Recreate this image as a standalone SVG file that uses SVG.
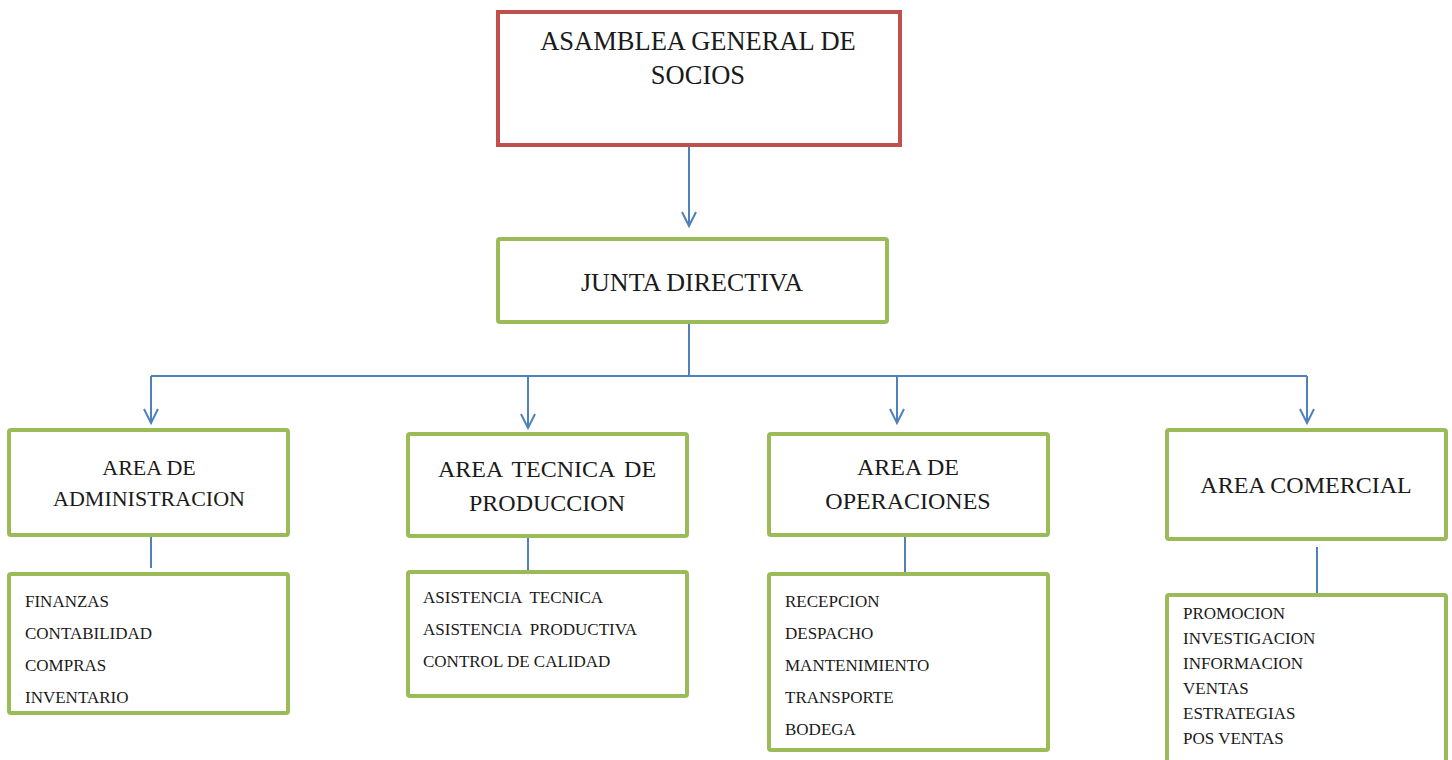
<svg xmlns="http://www.w3.org/2000/svg" width="1452" height="760" viewBox="0 0 1452 760">
<style>
.box{fill:#fff;stroke:#9bbb59;stroke-width:4}
.top{fill:#fff;stroke:#c0504d;stroke-width:4}
.con{fill:none;stroke:#4f81bd;stroke-width:2}
text{font-family:"Liberation Serif","Times New Roman",serif;fill:#1a1a1a}
.h{font-size:24px;text-anchor:middle}
.i{font-size:17px}
</style>
<defs>
<marker id="arr" markerUnits="userSpaceOnUse" markerWidth="16" markerHeight="16" refX="15" refY="8" orient="auto" viewBox="0 0 16 16" overflow="visible">
<path d="M1,1 L15,8 L1,15" fill="none" stroke="#4f81bd" stroke-width="2"/>
</marker>
</defs>
<rect width="1452" height="760" fill="#fff"/>
<g id="connectors">
<path class="con" d="M689,147 V226" marker-end="url(#arr)"/>
<path class="con" d="M689,324 V376"/>
<path class="con" d="M151,376 H1307"/>
<path class="con" d="M151,376 V423" marker-end="url(#arr)"/>
<path class="con" d="M528,376 V428" marker-end="url(#arr)"/>
<path class="con" d="M897,376 V423" marker-end="url(#arr)"/>
<path class="con" d="M1307,376 V423" marker-end="url(#arr)"/>
<path class="con" d="M151,537 V568"/>
<path class="con" d="M528,538 V570"/>
<path class="con" d="M905,537 V572"/>
<path class="con" d="M1317,547 V595"/>
</g>
<g id="asamblea">
<rect class="top" x="498" y="12" width="402" height="133"/>
<text x="698" y="50" font-size="26.5" text-anchor="middle">ASAMBLEA GENERAL DE</text>
<text x="698" y="84" font-size="26.5" text-anchor="middle">SOCIOS</text>
</g>
<g id="junta">
<rect class="box" x="498" y="239" width="389" height="83" rx="2"/>
<text x="692" y="291" font-size="26" text-anchor="middle">JUNTA DIRECTIVA</text>
</g>
<g id="admin">
<rect class="box" x="9" y="430" width="279" height="105" rx="2"/>
<text class="h" x="149" y="475" style="font-size:22px">AREA DE</text>
<text class="h" x="149" y="506" style="font-size:22px">ADMINISTRACION</text>
</g>
<g id="admin-items">
<rect class="box" x="9" y="574" width="279" height="139" rx="2"/>
<text class="i" x="25" y="607">FINANZAS</text>
<text class="i" x="25" y="639">CONTABILIDAD</text>
<text class="i" x="25" y="671">COMPRAS</text>
<text class="i" x="25" y="703">INVENTARIO</text>
</g>
<g id="tecnica">
<rect class="box" x="408" y="434" width="279" height="102" rx="2"/>
<text class="h" x="547" y="477" word-spacing="4">AREA TECNICA DE</text>
<text class="h" x="547" y="511">PRODUCCION</text>
</g>
<g id="tecnica-items">
<rect class="box" x="408" y="572" width="279" height="124" rx="2"/>
<text class="i" x="423" y="603" xml:space="preserve">ASISTENCIA  TECNICA</text>
<text class="i" x="423" y="635" xml:space="preserve">ASISTENCIA  PRODUCTIVA</text>
<text class="i" x="423" y="667">CONTROL DE CALIDAD</text>
</g>
<g id="operaciones">
<rect class="box" x="769" y="434" width="279" height="101" rx="2"/>
<text class="h" x="908" y="475">AREA DE</text>
<text class="h" x="908" y="509">OPERACIONES</text>
</g>
<g id="operaciones-items">
<rect class="box" x="769" y="574" width="279" height="176" rx="2"/>
<text class="i" x="785" y="607">RECEPCION</text>
<text class="i" x="785" y="639">DESPACHO</text>
<text class="i" x="785" y="671">MANTENIMIENTO</text>
<text class="i" x="785" y="703">TRANSPORTE</text>
<text class="i" x="785" y="735">BODEGA</text>
</g>
<g id="comercial">
<rect class="box" x="1167" y="430" width="279" height="109" rx="2"/>
<text class="h" x="1306" y="493">AREA COMERCIAL</text>
</g>
<g id="comercial-items">
<rect class="box" x="1167" y="595" width="279" height="190" rx="2"/>
<text class="i" x="1183" y="619">PROMOCION</text>
<text class="i" x="1183" y="644">INVESTIGACION</text>
<text class="i" x="1183" y="669">INFORMACION</text>
<text class="i" x="1183" y="694">VENTAS</text>
<text class="i" x="1183" y="719">ESTRATEGIAS</text>
<text class="i" x="1183" y="744">POS VENTAS</text>
</g>
</svg>
